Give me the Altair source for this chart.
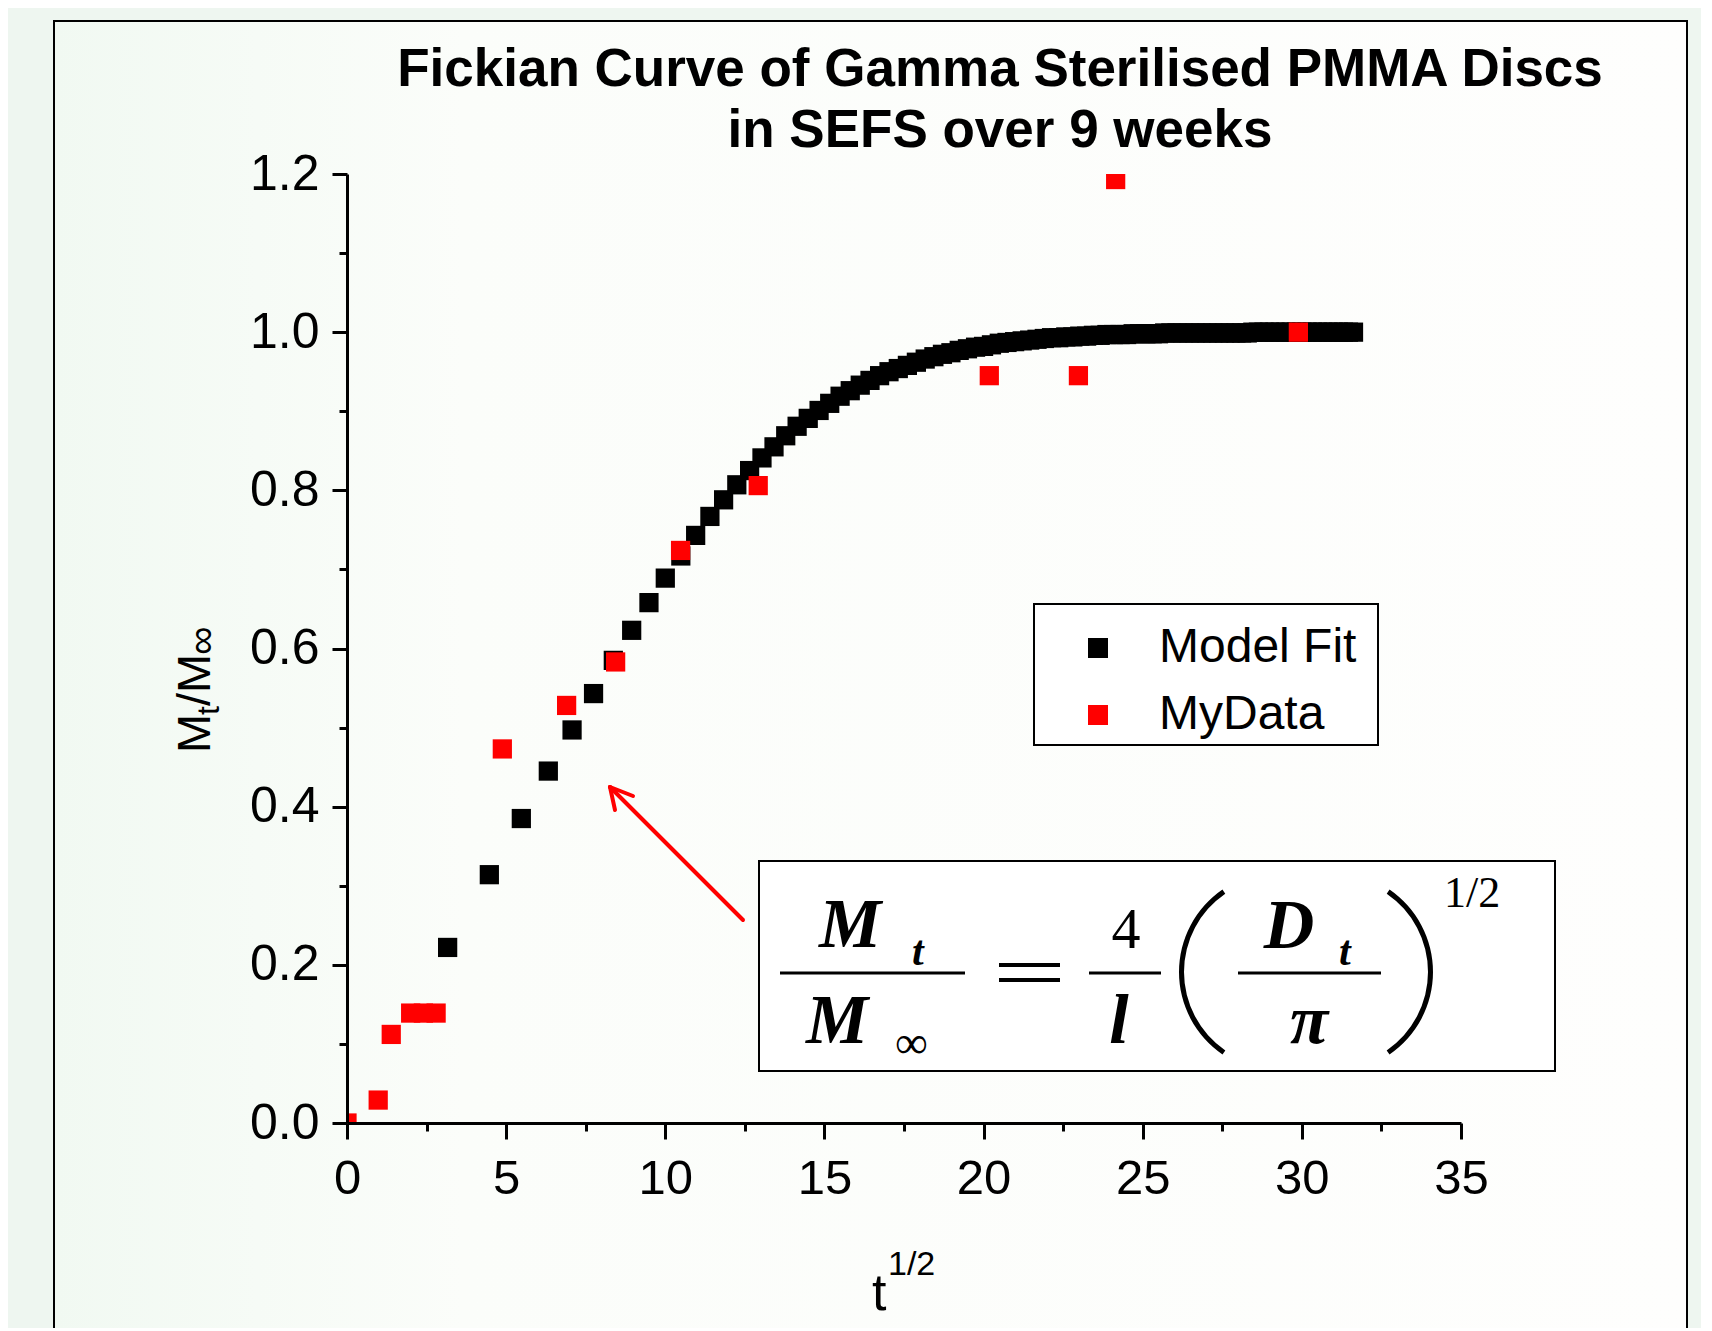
import altair as alt
import pandas as pd

# ---------------- data ----------------
series_names = ["Model Fit", "MyData"]
series_colors = ["#000000", "#ff0000"]

fit_x = [3.162, 4.472, 5.477, 6.325, 7.071, 7.746, 8.367, 8.944, 9.487, 10.000,
         10.488, 10.954, 11.402, 11.832, 12.247, 12.649, 13.038, 13.416, 13.784, 14.142,
         14.491, 14.832, 15.166, 15.492, 15.811, 16.125, 16.432, 16.733, 17.029, 17.321,
         17.607, 17.889, 18.166, 18.439, 18.708, 18.974, 19.235, 19.494, 19.748, 20.000,
         20.248, 20.494, 20.736, 20.976, 21.213, 21.448, 21.679, 21.909, 22.136, 22.361,
         22.583, 22.804, 23.022, 23.238, 23.452, 23.664, 23.875, 24.083, 24.290, 24.495,
         24.698, 24.900, 25.100, 25.298, 25.495, 25.690, 25.884, 26.077, 26.268, 26.458,
         26.646, 26.833, 27.019, 27.203, 27.386, 27.568, 27.749, 27.928, 28.107, 28.284,
         28.460, 28.636, 28.810, 28.983, 29.155, 29.326, 29.496, 29.665, 29.833, 30.000,
         30.166, 30.332, 30.496, 30.659, 30.822, 30.984, 31.145, 31.305, 31.464, 31.623]
fit_y = [0.222, 0.314, 0.385, 0.445, 0.497, 0.543, 0.585, 0.623, 0.658, 0.689,
         0.717, 0.743, 0.767, 0.788, 0.807, 0.825, 0.841, 0.855, 0.869, 0.881,
         0.891, 0.901, 0.910, 0.919, 0.926, 0.933, 0.939, 0.945, 0.950, 0.954,
         0.958, 0.962, 0.966, 0.969, 0.972, 0.974, 0.977, 0.979, 0.981, 0.982,
         0.984, 0.986, 0.987, 0.988, 0.989, 0.990, 0.991, 0.992, 0.993, 0.993,
         0.994, 0.994, 0.995, 0.995, 0.996, 0.996, 0.997, 0.997, 0.997, 0.997,
         0.998, 0.998, 0.998, 0.998, 0.998, 0.999, 0.999, 0.999, 0.999, 0.999,
         0.999, 0.999, 0.999, 0.999, 0.999, 0.999, 0.999, 0.999, 0.999, 0.999,
         1.000, 1.000, 1.000, 1.000, 1.000, 1.000, 1.000, 1.000, 1.000, 1.000,
         1.000, 1.000, 1.000, 1.000, 1.000, 1.000, 1.000, 1.000, 1.000, 1.000]

my_x = [0.0, 0.98, 1.39, 2.0, 2.4, 2.8, 4.88, 6.90, 8.44, 10.48, 12.92, 20.18, 22.98, 24.15, 29.89]
my_y = [0.0, 0.029, 0.112, 0.139, 0.139, 0.139, 0.473, 0.528, 0.583, 0.724, 0.806, 0.945, 0.945, 1.193, 1.000]

x_major = [0, 5, 10, 15, 20, 25, 30, 35]
x_minor = [2.5, 7.5, 12.5, 17.5, 22.5, 27.5, 32.5]
y_major = [0.0, 0.2, 0.4, 0.6, 0.8, 1.0, 1.2]
y_minor = [0.1, 0.3, 0.5, 0.7, 0.9, 1.1]

title_lines = ["Fickian Curve of Gamma Sterilised PMMA Discs", "in SEFS over 9 weeks"]

fit_df = pd.DataFrame({"x": fit_x, "y": fit_y, "series": series_names[0]})
my_df = pd.DataFrame({"x": my_x, "y": my_y, "series": series_names[1]})
one = pd.DataFrame({"k": [0]})

W, H = 1114, 949
SANS = "Liberation Sans"
SERIF = "Liberation Serif"

xscale = alt.Scale(domain=[0, 35], nice=False, zero=False)
yscale = alt.Scale(domain=[0, 1.2], nice=False, zero=False)

x_axis_major = alt.Axis(values=x_major, orient="bottom", title=None, grid=False,
                        tickSize=16, tickWidth=3, tickColor="black", domainWidth=3,
                        domainColor="black", labelFont=SANS, labelFontSize=49,
                        labelColor="black", labelPadding=15, labelFlush=False,
                        labelOverlap=False, format="d", zindex=1)
x_axis_minor = alt.Axis(values=x_minor, orient="bottom", title=None, grid=False,
                        tickSize=8, tickWidth=3, tickColor="black", domain=False,
                        labels=False, zindex=1)
y_axis_major = alt.Axis(values=y_major, orient="left", title=None, grid=False,
                        tickSize=15, tickWidth=3, tickColor="black", domainWidth=3,
                        domainColor="black", labelFont=SANS, labelFontSize=50,
                        labelColor="black", labelPadding=13, labelFlush=False,
                        labelOverlap=False, format=".1f", zindex=1)
y_axis_minor = alt.Axis(values=y_minor, orient="left", title=None, grid=False,
                        tickSize=8, tickWidth=3, tickColor="black", domain=False,
                        labels=False, zindex=1)

color = alt.Color("series:N",
                  scale=alt.Scale(domain=series_names, range=series_colors),
                  legend=alt.Legend(title=None, orient="none", legendX=687, legendY=434,
                                    symbolType="square", symbolSize=400,
                                    symbolStrokeWidth=0, labelFont=SANS,
                                    labelFontSize=48, labelColor="black",
                                    padding=16, rowPadding=19, symbolOffset=24,
                                    labelOffset=37, labelLimit=400))

fit = alt.Chart(fit_df).mark_square(size=370, opacity=1, clip=True).encode(
    x=alt.X("x:Q", scale=xscale, axis=x_axis_major),
    y=alt.Y("y:Q", scale=yscale, axis=y_axis_major),
    color=color,
)
mine = alt.Chart(my_df).mark_square(size=370, opacity=1, clip=True).encode(
    x=alt.X("x:Q", scale=xscale, axis=x_axis_minor),
    y=alt.Y("y:Q", scale=yscale, axis=y_axis_minor),
    color=color,
)


def box(x1, y1, x2, y2, fill, sw=2):
    return alt.Chart(one).mark_rect(fill=fill, stroke="black", strokeWidth=sw).encode(
        x=alt.value(x1), x2=alt.value(x2), y=alt.value(y1), y2=alt.value(y2))


def txt(text, x, y, size, font=SANS, align="left", baseline="alphabetic",
        weight="normal", style="normal", angle=0):
    return alt.Chart(one).mark_text(text=text, font=font, fontSize=size, align=align,
                                    baseline=baseline, fontWeight=weight,
                                    fontStyle=style, angle=angle, color="black").encode(
        x=alt.value(x), y=alt.value(y))


def seg(x1, y1, x2, y2, color="black", width=3, cap="butt"):
    return alt.Chart(one).mark_rule(color=color, strokeWidth=width, strokeCap=cap).encode(
        x=alt.value(x1), y=alt.value(y1), x2=alt.value(x2), y2=alt.value(y2))


def arc(cx, cy, r, r2, t1, t2):
    return alt.Chart(one).mark_arc(radius=r, radius2=r2, theta=t1, theta2=t2,
                                   color="black").encode(x=alt.value(cx), y=alt.value(cy))


frame_fill = alt.Gradient(gradient="linear", x1=0, x2=1, y1=0, y2=0,
                          stops=[alt.GradientStop(color="#f1f9f2", offset=0),
                                 alt.GradientStop(color="#fbfdfa", offset=0.25),
                                 alt.GradientStop(color="#fefefd", offset=1)])

layers = [
    box(-293, -153, 1340, 1200, frame_fill, 2),
    # title
    txt(title_lines[0], 653, -88, 53, align="center", weight="bold"),
    txt(title_lines[1], 653, -27, 53, align="center", weight="bold"),
    # y title  M_t / M_inf (rotated)
    txt("M", -137, 579, 47, angle=270),
    txt("t", -128, 541, 32, angle=270),
    txt("/M", -137, 532, 47, angle=270),
    txt("\u221e", -132, 481, 40, angle=270),
    # x title t^(1/2)
    txt("t", 525, 1136, 52),
    txt("1/2", 541, 1101, 34),
    # legend border
    box(687, 430, 1031, 571, "#ffffff", 2),
    # equation box
    box(412, 687, 1208, 897, "#ffffff", 2),
    fit,
    mine,
    # equation
    txt("M", 503, 773, 70, font=SERIF, align="center", weight="bold", style="italic"),
    txt("t", 565, 791, 42, font=SERIF, weight="bold", style="italic"),
    seg(433, 799, 618, 799, width=3),
    txt("M", 490, 869, 70, font=SERIF, align="center", weight="bold", style="italic"),
    txt("\u221e", 548, 884, 46, font=SERIF),
    seg(652, 791, 713, 791, width=4),
    seg(652, 806, 713, 806, width=4),
    txt("4", 779, 774, 58, font=SERIF, align="center"),
    seg(742, 799, 814, 799, width=3),
    txt("l", 772, 869, 70, font=SERIF, align="center", weight="bold", style="italic"),
    arc(932, 798, 100, 95, 3.742, 5.682),
    txt("D", 942, 774, 70, font=SERIF, align="center", weight="bold", style="italic"),
    txt("t", 992, 791, 42, font=SERIF, weight="bold", style="italic"),
    seg(891, 799, 1034, 799, width=3),
    txt("\u03c0", 962, 869, 70, font=SERIF, align="center", weight="bold", style="italic"),
    arc(986, 798, 100, 95, 0.601, 2.541),
    txt("1/2", 1097, 733, 44, font=SERIF),
    # red arrow
    seg(396, 746, 263, 613, color="#ff0000", width=4, cap="round"),
    seg(263, 613, 286, 622, color="#ff0000", width=4, cap="round"),
    seg(263, 613, 268, 636, color="#ff0000", width=4, cap="round"),
]

chart = alt.layer(*layers).resolve_axis(x="independent", y="independent").properties(
    width=W, height=H,
    padding={"left": 339, "top": 166, "right": 240, "bottom": 205},
    autosize=alt.AutoSizeParams(type="none"),
    background="#eef6f0",
).configure_view(stroke=None)

chart.save("out.html", embed_options={"renderer": "svg", "actions": False})
